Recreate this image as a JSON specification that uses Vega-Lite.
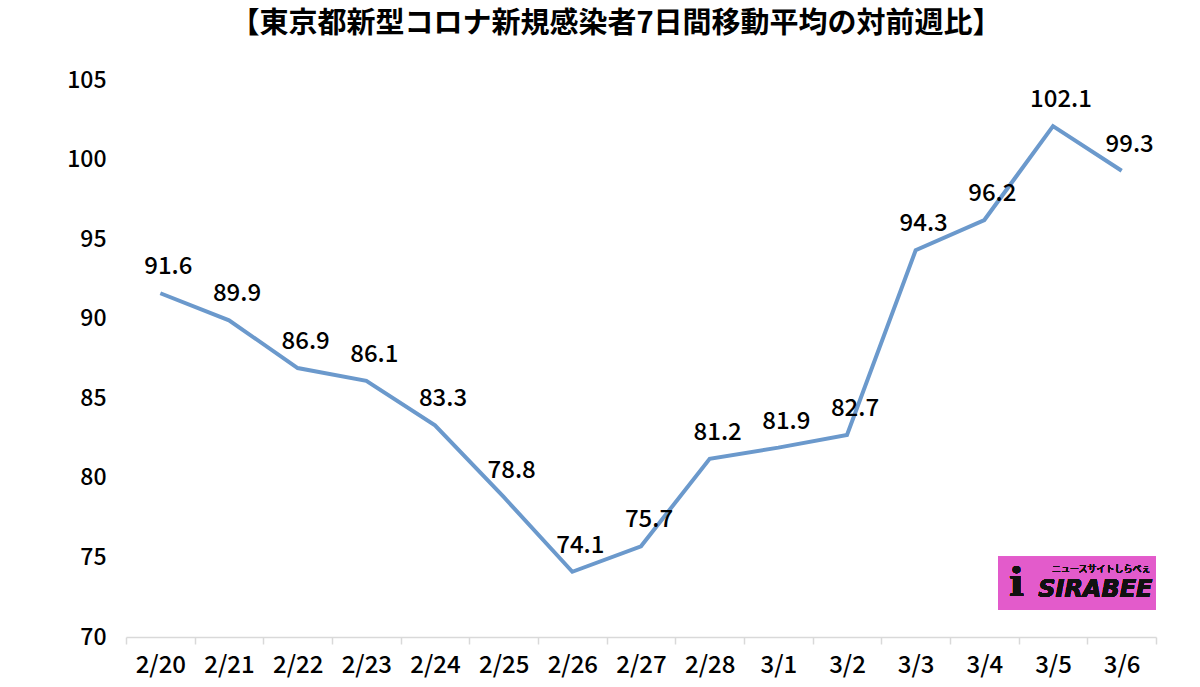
{
  "$schema": "https://vega.github.io/schema/vega-lite/v6.json",
  "width": 1030,
  "height": 557,
  "autosize": "none",
  "padding": {"left": 126, "top": 80, "right": 44, "bottom": 50},
  "background": "white",
  "title": {
    "text": "【東京都新型コロナ新規感染者7日間移動平均の対前週比】",
    "font": "Noto Sans CJK JP",
    "fontSize": 29,
    "fontWeight": "bold",
    "color": "#000000",
    "anchor": "middle",
    "dx": -25,
    "offset": 30
  },
  "config": {
    "view": {"stroke": null},
    "font": "Noto Sans CJK JP"
  },
  "data": {
    "values": [
      {"date": "2/20", "value": 91.6},
      {"date": "2/21", "value": 89.9},
      {"date": "2/22", "value": 86.9},
      {"date": "2/23", "value": 86.1},
      {"date": "2/24", "value": 83.3},
      {"date": "2/25", "value": 78.8},
      {"date": "2/26", "value": 74.1},
      {"date": "2/27", "value": 75.7},
      {"date": "2/28", "value": 81.2},
      {"date": "3/1", "value": 81.9},
      {"date": "3/2", "value": 82.7},
      {"date": "3/3", "value": 94.3},
      {"date": "3/4", "value": 96.2},
      {"date": "3/5", "value": 102.1},
      {"date": "3/6", "value": 99.3}
    ]
  },
  "encoding": {
    "x": {
      "field": "date",
      "type": "ordinal",
      "sort": null,
      "scale": {"type": "band", "paddingInner": 0, "paddingOuter": 0,
        "domain": ["2/20","2/21","2/22","2/23","2/24","2/25","2/26","2/27","2/28","3/1","3/2","3/3","3/4","3/5","3/6"]},
      "axis": {
        "title": null,
        "labelAngle": 0,
        "labelFontSize": 24,
        "labelFontWeight": 500,
        "labelColor": "#000000",
        "labelPadding": 9,
        "domainColor": "#d9d9d9",
        "domainWidth": 1.5,
        "tickColor": "#d9d9d9",
        "tickWidth": 1.5,
        "tickSize": 7,
        "tickBand": "extent"
      }
    },
    "y": {
      "field": "value",
      "type": "quantitative",
      "scale": {"domain": [70, 105], "nice": false, "zero": false},
      "axis": {
        "title": null,
        "values": [70, 75, 80, 85, 90, 95, 100, 105],
        "grid": false,
        "domain": false,
        "ticks": false,
        "labelPadding": 20,
        "labelFontSize": 23,
        "labelFontWeight": 500,
        "labelColor": "#000000"
      }
    }
  },
  "layer": [
    {
      "mark": {"type": "rect", "color": "#e35bcb"},
      "encoding": {
        "x": {"datum": "3/4", "bandPosition": 0.7},
        "x2": {"datum": "3/6", "bandPosition": 1},
        "y": {"datum": 71.7},
        "y2": {"datum": 75.05}
      }
    },
    {
      "mark": {"type": "text", "text": "SIRABEE", "fontSize": 24, "fontWeight": "bold", "fontStyle": "italic", "font": "DejaVu Sans", "color": "#111111", "align": "center", "baseline": "middle", "dx": 8, "dy": 4},
      "encoding": {
        "x": {"datum": "3/5", "bandPosition": 1},
        "y": {"datum": 73.2}
      }
    },
    {
      "mark": {"type": "text", "text": "ニュースサイトしらべぇ", "fontSize": 9, "color": "#111111", "align": "center", "baseline": "middle", "dx": 14},
      "encoding": {
        "x": {"datum": "3/5", "bandPosition": 1},
        "y": {"datum": 74.3}
      }
    },
    {
      "mark": {"type": "text", "text": "i", "fontSize": 40, "fontWeight": "bold", "font": "DejaVu Serif", "color": "#111111", "align": "center", "baseline": "middle", "dx": -2},
      "encoding": {
        "x": {"datum": "3/4", "bandPosition": 1},
        "y": {"datum": 73.3}
      }
    },
    {
      "mark": {"type": "line", "color": "#6b99cc", "strokeWidth": 4, "strokeJoin": "miter"}
    },
    {
      "mark": {"type": "text", "fontSize": 24, "fontWeight": 500, "color": "#000000", "dx": 8, "dy": -26, "baseline": "middle", "align": "center"},
      "encoding": {"text": {"field": "value", "type": "quantitative", "format": ".1f"}}
    }
  ]
}
